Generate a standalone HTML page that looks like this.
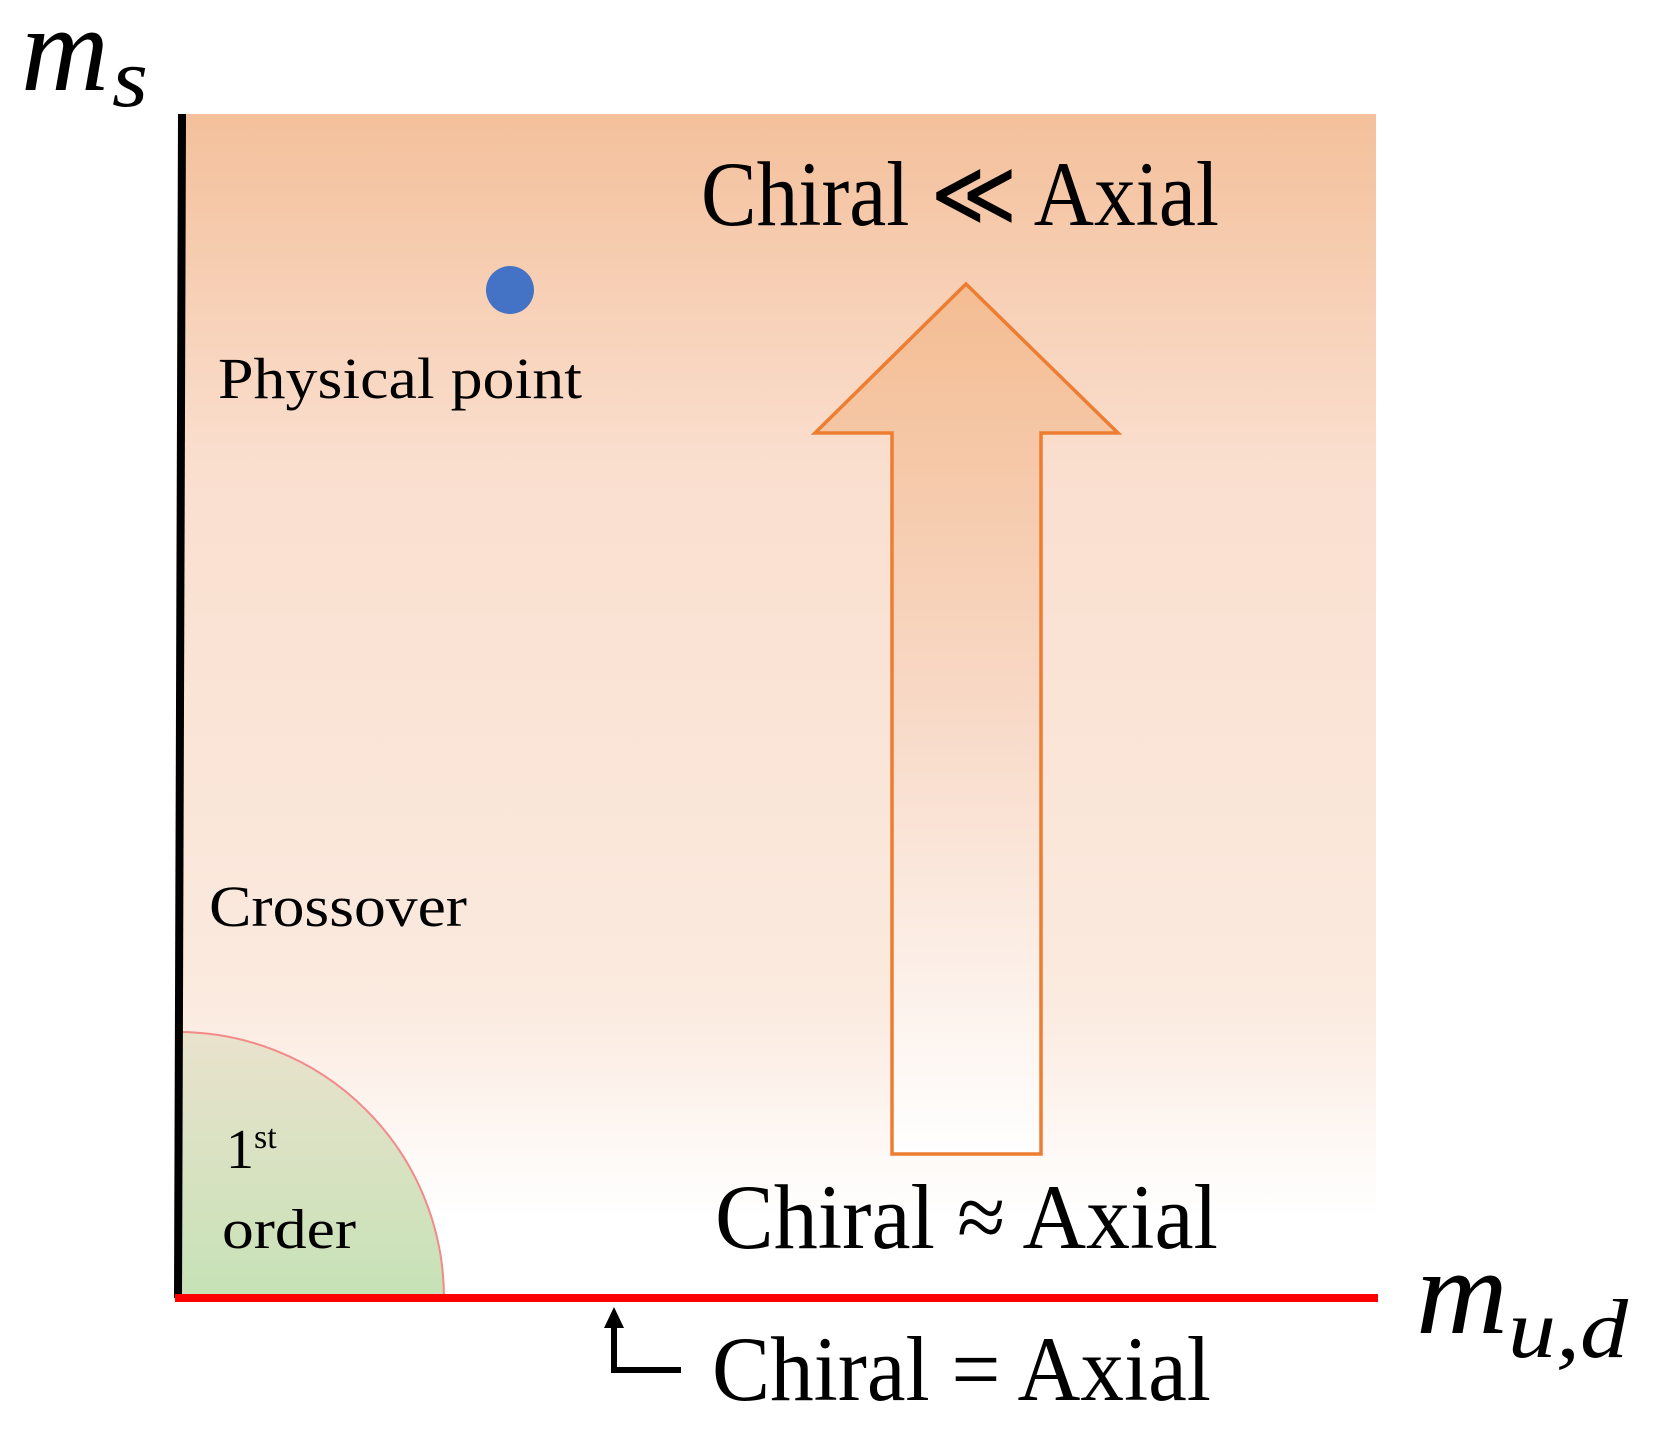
<!DOCTYPE html>
<html><head><meta charset="utf-8"><style>html,body{margin:0;padding:0;background:#fff}svg{display:block}</style></head>
<body>
<svg width="1664" height="1451" viewBox="0 0 1664 1451" xmlns="http://www.w3.org/2000/svg" font-family="'Liberation Serif', serif">
<defs>
<linearGradient id="bg" x1="0" y1="0" x2="0" y2="1">
<stop offset="0" stop-color="#F4C09B"/>
<stop offset="0.3" stop-color="#FADFCF"/>
<stop offset="0.75" stop-color="#FBEADF"/>
<stop offset="0.93" stop-color="#FFFFFF"/>
<stop offset="1" stop-color="#FFFFFF"/>
</linearGradient>
<linearGradient id="gr" x1="0" y1="0" x2="0" y2="1">
<stop offset="0" stop-color="#EAE2CD"/>
<stop offset="1" stop-color="#C6E2B6"/>
</linearGradient>
<linearGradient id="ar" x1="0" y1="0" x2="0" y2="1">
<stop offset="0" stop-color="#F4BC92"/>
<stop offset="0.5" stop-color="#F8DAC8"/>
<stop offset="1" stop-color="#FFFFFF"/>
</linearGradient>
</defs>
<rect x="178" y="114" width="1198" height="1184" fill="url(#bg)"/>
<path d="M178 1032 A266 266 0 0 1 444 1298 L178 1298 Z" fill="url(#gr)" stroke="#F28A8A" stroke-width="2"/>
<line x1="182" y1="114" x2="178" y2="1298" stroke="#000" stroke-width="8"/>
<line x1="175" y1="1298" x2="1378" y2="1298" stroke="#FF0000" stroke-width="8"/>
<path d="M966 284 L1118 433 L1041 433 L1041 1154 L892 1154 L892 433 L815 433 Z" fill="url(#ar)" stroke="#ED7D31" stroke-width="3.5"/>
<circle cx="510" cy="290" r="24" fill="#4472C4"/>
<text x="21" y="90" font-size="122" font-style="italic" textLength="88" lengthAdjust="spacingAndGlyphs">m</text>
<text x="112" y="106" font-size="84" font-style="italic" textLength="36" lengthAdjust="spacingAndGlyphs">s</text>
<text x="1416" y="1333" font-size="122" font-style="italic" textLength="92" lengthAdjust="spacingAndGlyphs">m</text>
<text x="1508" y="1357" font-size="84" font-style="italic" textLength="120" lengthAdjust="spacingAndGlyphs">u,d</text>
<text x="701" y="225" font-size="92" textLength="518" lengthAdjust="spacingAndGlyphs">Chiral ≪ Axial</text>
<text x="715" y="1248" font-size="92" textLength="503" lengthAdjust="spacingAndGlyphs">Chiral ≈ Axial</text>
<text x="712" y="1400" font-size="92" textLength="499" lengthAdjust="spacingAndGlyphs">Chiral = Axial</text>
<text x="218" y="398" font-size="58" textLength="364" lengthAdjust="spacingAndGlyphs">Physical point</text>
<text x="209" y="926" font-size="58" textLength="258" lengthAdjust="spacingAndGlyphs">Crossover</text>
<text x="226" y="1168" font-size="56">1</text>
<text x="254" y="1148" font-size="34">st</text>
<text x="222" y="1248" font-size="56" textLength="134" lengthAdjust="spacingAndGlyphs">order</text>
<polyline points="614,1326 614,1370 681,1370" fill="none" stroke="#000" stroke-width="6"/>
<polygon points="614,1307 604,1328 624,1328" fill="#000"/>
</svg>
</body></html>
